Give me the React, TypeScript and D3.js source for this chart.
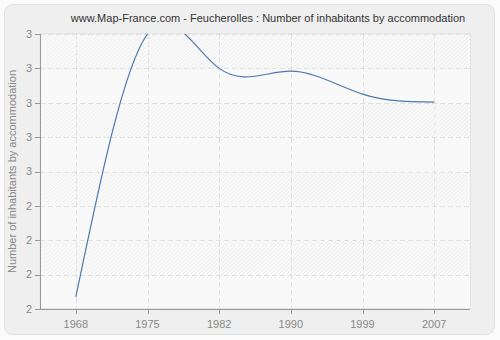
import React from "react";
import * as d3 from "d3";

const years = ["1968", "1975", "1982", "1990", "1999", "2007"];
const values = [2.235, 3.0, 2.9, 2.892, 2.825, 2.802];
const yTicks = [2.2, 2.3, 2.4, 2.5, 2.6, 2.7, 2.8, 2.9, 3.0];
const yTickLabels = ["2", "2", "2", "2", "3", "3", "3", "3", "3"];
const title = "www.Map-France.com - Feucherolles : Number of inhabitants by accommodation";
const yTitle = "Number of inhabitants by accommodation";

const W = 500, H = 340;
const L = 40, R = 470, T = 34, B = 309;

export default function App() {
  const x = d3.scalePoint<string>().domain(years).range([L, R]).padding(0.5);
  const y = d3.scaleLinear().domain([2.2, 3.0]).range([B, T]);
  const line = d3
    .line<number>()
    .x((_, i) => x(years[i]) as number)
    .y((d) => y(d))
    .curve(d3.curveNatural);
  const font = "'Liberation Sans', Arial, sans-serif";
  const bands = yTicks.slice(0, -1).map((t, i) => ({ y0: y(yTicks[i + 1]), y1: y(t), plain: i % 2 === 0 }));
  return (
    <svg width={W} height={H} style={{ display: "block", position: "absolute", left: 0, top: 0 }}>
      <defs>
        <pattern id="hatch" width="2.83" height="4" patternUnits="userSpaceOnUse" patternTransform="rotate(45)">
          <rect width="2.83" height="4" fill="#ffffff" />
          <line x1="0.5" y1="0" x2="0.5" y2="4" stroke="#e6e6e6" strokeWidth="0.9" />
        </pattern>
        <clipPath id="plotclip">
          <rect x={L} y={T} width={R - L} height={B - T} />
        </clipPath>
      </defs>
      <rect x={0} y={0} width={W} height={H} fill="#fbfbfb" />
      <rect x={4.5} y={4.5} width={490} height={330} rx={8} fill="#efefef" stroke="#e2e2e2" />
      <rect x={L} y={T} width={R - L} height={B - T} fill="url(#hatch)" />
      {bands.map((b, i) =>
        b.plain ? <rect key={i} x={L} y={b.y0} width={R - L} height={b.y1 - b.y0} fill="#f9f9f9" opacity={0.82} /> : null
      )}
      <rect x={L} y={T - 0.5} width={R - L + 0.5} height={B - T} fill="none" stroke="#e4e4e4" />
      {yTicks.slice(1).map((t, i) => (
        <line key={"h" + i} x1={L} x2={R} y1={Math.round(y(t)) + 0.5} y2={Math.round(y(t)) + 0.5} stroke="#e0e0e0" strokeDasharray="5,3" />
      ))}
      {years.map((yr) => (
        <line key={"v" + yr} x1={Math.round(x(yr) as number) + 0.5} x2={Math.round(x(yr) as number) + 0.5} y1={T} y2={B} stroke="#e0e0e0" strokeDasharray="5,3" />
      ))}
      <path d={line(values) || ""} fill="none" stroke="#4a78b0" strokeWidth={1.2} clipPath="url(#plotclip)" />
      <line x1={L + 0.5} x2={L + 0.5} y1={T} y2={B} stroke="#999" />
      <line x1={L - 5} x2={R} y1={B + 0.5} y2={B + 0.5} stroke="#999" />
      {yTicks.map((t, i) => (
        <g key={"yt" + i}>
          <line x1={L - 5} x2={L} y1={Math.round(y(t)) + 0.5} y2={Math.round(y(t)) + 0.5} stroke="#999" />
          <text x={L - 8} y={y(t)} dy="0.35em" textAnchor="end" fontSize={11} fill="#888" fontFamily={font}>
            {yTickLabels[i]}
          </text>
        </g>
      ))}
      {years.map((yr) => (
        <g key={"xt" + yr}>
          <line x1={Math.round(x(yr) as number) + 0.5} x2={Math.round(x(yr) as number) + 0.5} y1={B} y2={B + 5} stroke="#999" />
          <text x={x(yr)} y={328} textAnchor="middle" fontSize={11} fill="#888" fontFamily={font}>
            {yr}
          </text>
        </g>
      ))}
      <text transform={`translate(16,${(T + B) / 2}) rotate(-90)`} textAnchor="middle" fontSize={11} fill="#888" fontFamily={font}>
        {yTitle}
      </text>
      <text x={268} y={22} textAnchor="middle" fontSize={11} fill="#333" fontFamily={font}>
        {title}
      </text>
    </svg>
  );
}
